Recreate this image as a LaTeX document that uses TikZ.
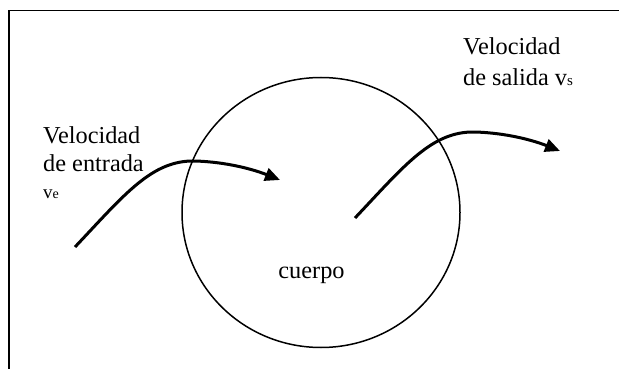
\documentclass[tikz,border=0pt]{standalone}
\usepackage{fontspec}
\setmainfont{Liberation Serif}
\usetikzlibrary{arrows.meta}
\begin{document}
\begin{tikzpicture}[x=1pt,y=-1pt,
  frameline/.style={line width=1.8pt},
  flow/.style={line width=3pt,-{Triangle[length=15pt,width=13pt]}},
  lbl/.style={inner sep=0pt,anchor=base west,font=\fontsize{24.3}{28}\selectfont}]
\useasboundingbox (0,0) rectangle (619,369);
% frame
\coordinate (fTL) at (9,10.5);
\coordinate (fTR) at (619,10.5);
\coordinate (fBL) at (9,369);
\draw[frameline] (fBL) -- (fTL) -- (fTR);
% body
\draw[line width=1.5pt] (321,212.5) ellipse [x radius=139, y radius=135];
\node[inner sep=0pt,anchor=base,font=\fontsize{24.3}{28}\selectfont] (cuerpo) at (311.5,278) {cuerpo};
% entrance arrow
\coordinate (inS) at (75,247);
\coordinate (inP) at (195,161);
\coordinate (inE) at (280,180);
\draw[flow] (inS) .. controls (125,194) and (152,160) .. (inP) .. controls (228,162) and (255,170) .. (inE);
% exit arrow
\coordinate (outS) at (355,218);
\coordinate (outP) at (475,132);
\coordinate (outE) at (560,151);
\draw[flow] (outS) .. controls (405,165) and (432,131) .. (outP) .. controls (508,133) and (535,141) .. (outE);
% labels
\node[lbl] (ve1) at (43,143) {Velocidad};
\node[lbl] (ve2) at (43,171) {de entrada};
\node[lbl,font=\fontsize{19}{24}\selectfont] (ve3) at (43,198) {v\raisebox{-0.5pt}{\fontsize{14}{16}\selectfont e}};
\node[lbl] (vs1) at (463,55) {Velocidad};
\node[lbl] (vs2) at (463,85) {de salida v\raisebox{-1pt}{\fontsize{15}{16}\selectfont s}};
\end{tikzpicture}
\end{document}
